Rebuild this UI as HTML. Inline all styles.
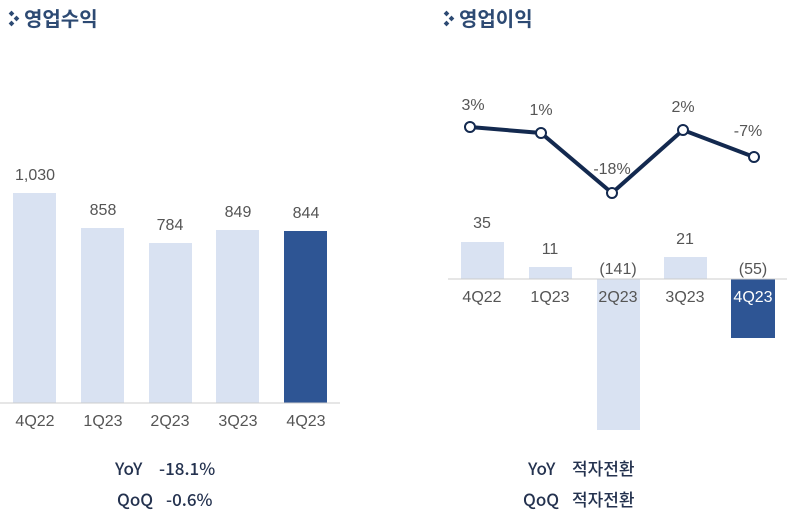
<!DOCTYPE html><html><head><meta charset="utf-8"><style>body{margin:0;background:#fff}</style></head><body>
<svg width="800" height="525" xmlns="http://www.w3.org/2000/svg" font-family="'Liberation Sans','Noto Sans CJK KR',sans-serif">
<g fill="#2d4a73"><rect x="9.5" y="11.5" width="4" height="4" transform="rotate(45 11.5 13.5)"/><rect x="14.5" y="16.5" width="4" height="4" transform="rotate(45 16.5 18.5)"/><rect x="9.5" y="21.5" width="4" height="4" transform="rotate(45 11.5 23.5)"/>
<rect x="444.5" y="11.5" width="4" height="4" transform="rotate(45 446.5 13.5)"/><rect x="449.5" y="16.5" width="4" height="4" transform="rotate(45 451.5 18.5)"/><rect x="444.5" y="21.5" width="4" height="4" transform="rotate(45 446.5 23.5)"/></g>
<g font-family="'Noto Sans CJK KR',sans-serif" font-weight="bold" font-size="20" fill="#2d4a73">
<text x="24" y="26">영업수익</text><text x="459" y="26">영업이익</text></g>
<g fill="#d9e2f2"><rect x="13" y="193" width="43" height="210"/><rect x="81" y="228" width="43" height="175"/><rect x="149" y="243" width="43" height="160"/><rect x="216" y="230" width="43" height="173"/></g>
<rect x="284" y="231" width="43" height="172" fill="#2e5594"/>
<line x1="0" y1="403" x2="340" y2="403" stroke="#ccc"/>
<g font-size="16" fill="#555" text-anchor="middle">
<text x="35" y="180">1,030</text><text x="103" y="215">858</text><text x="170" y="230">784</text><text x="238" y="217">849</text><text x="306" y="218">844</text>
<text x="35" y="426">4Q22</text><text x="103" y="426">1Q23</text><text x="170" y="426">2Q23</text><text x="238" y="426">3Q23</text><text x="306" y="426">4Q23</text></g>
<g fill="#d9e2f2"><rect x="461" y="242" width="43" height="37"/><rect x="529" y="267" width="43" height="12"/><rect x="597" y="279" width="43" height="151"/><rect x="664" y="257" width="43" height="22"/></g>
<rect x="731" y="279" width="44" height="59" fill="#2e5594"/>
<line x1="448" y1="279" x2="787" y2="279" stroke="#ccc"/>
<g font-size="16" fill="#555" text-anchor="middle">
<text x="482" y="228">35</text><text x="550" y="254">11</text><text x="618" y="274">(141)</text><text x="685" y="244">21</text><text x="753" y="274">(55)</text>
<text x="482" y="302">4Q22</text><text x="550" y="302">1Q23</text><text x="618" y="302">2Q23</text><text x="685" y="302">3Q23</text><text x="753" y="302" fill="#fff">4Q23</text>
<text x="473" y="110">3%</text><text x="541" y="115">1%</text><text x="612" y="174">-18%</text><text x="683" y="112">2%</text><text x="748" y="136">-7%</text></g>
<polyline points="470,127 541,133 612,193 683,130 754,157" fill="none" stroke="#13294f" stroke-width="4"/>
<g fill="#fff" stroke="#13294f" stroke-width="2"><circle cx="470" cy="127" r="5"/><circle cx="541" cy="133" r="5"/><circle cx="612" cy="193" r="5"/><circle cx="683" cy="130" r="5"/><circle cx="754" cy="157" r="5"/></g>
<g font-family="'Noto Sans CJK KR',sans-serif" font-weight="500" font-size="17" fill="#24324f">
<text x="115" y="475">YoY</text><text x="159" y="475">-18.1%</text><text x="117" y="506">QoQ</text><text x="166" y="506">-0.6%</text>
<text x="528" y="475">YoY</text><text x="572" y="475">적자전환</text><text x="523" y="506">QoQ</text><text x="572" y="506">적자전환</text></g>
</svg></body></html>
